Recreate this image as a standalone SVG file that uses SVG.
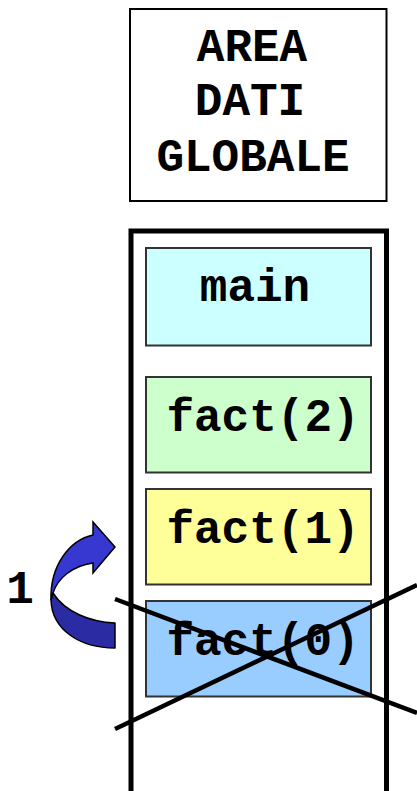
<svg xmlns="http://www.w3.org/2000/svg" width="417" height="791" viewBox="0 0 417 791">
<style>
.t{font-family:"Liberation Mono","Courier New",monospace;font-weight:bold;font-size:46px;fill:#000}
.fr{stroke:#333;stroke-width:2}
.stk{stroke:#000;stroke-width:5;fill:none}
.x{stroke:#000;stroke-width:4.5}
</style>
<rect width="417" height="791" fill="#fff"/>
<g id="area-dati-globale">
<rect x="130" y="9" width="256.5" height="192" fill="#fff" stroke="#000" stroke-width="2"/>
<text class="t" x="252" y="61" text-anchor="middle">AREA</text>
<text class="t" x="250" y="115" text-anchor="middle">DATI</text>
<text class="t" x="253" y="171" text-anchor="middle">GLOBALE</text>
</g>
<g id="stack">
<path class="stk" d="M131,791 V231 H386.5 V791"/>
</g>
<g id="main">
<rect class="fr" x="146" y="248" width="225" height="97.5" fill="#CCFFFF"/>
<text class="t" x="255" y="301" text-anchor="middle">main</text>
</g>
<g id="fact2">
<rect class="fr" x="146" y="377" width="225" height="95.5" fill="#CCFFCC"/>
<text class="t" x="263" y="431" text-anchor="middle">fact(2)</text>
</g>
<g id="fact1">
<rect class="fr" x="146" y="489" width="225" height="95.5" fill="#FFFF99"/>
<text class="t" x="263" y="543" text-anchor="middle">fact(1)</text>
</g>
<g id="fact0">
<rect class="fr" x="146" y="601" width="225" height="95.5" fill="#99CCFF"/>
<text class="t" x="263" y="655" text-anchor="middle">fact(0)</text>
</g>
<g id="connectors">
<path d="M53,593 C65,612 90,622 115,623 L115,648 C80,648 52,630 51,600 Z" fill="#2B2BA3" stroke="#000" stroke-width="1.5" stroke-linejoin="round"/>
<path d="M51,600 C50,565 70,540 93,535 L93,522 L115,547 L93,573 L93,563 C72,566 58,578 53,593 Z" fill="#3737D2" stroke="#000" stroke-width="1.5" stroke-linejoin="miter"/>
<text class="t" x="20" y="603" text-anchor="middle">1</text>
</g>
<g id="cross">
<line class="x" x1="115" y1="599" x2="417" y2="713"/>
<line class="x" x1="115" y1="729" x2="417" y2="585"/>
</g>
</svg>
